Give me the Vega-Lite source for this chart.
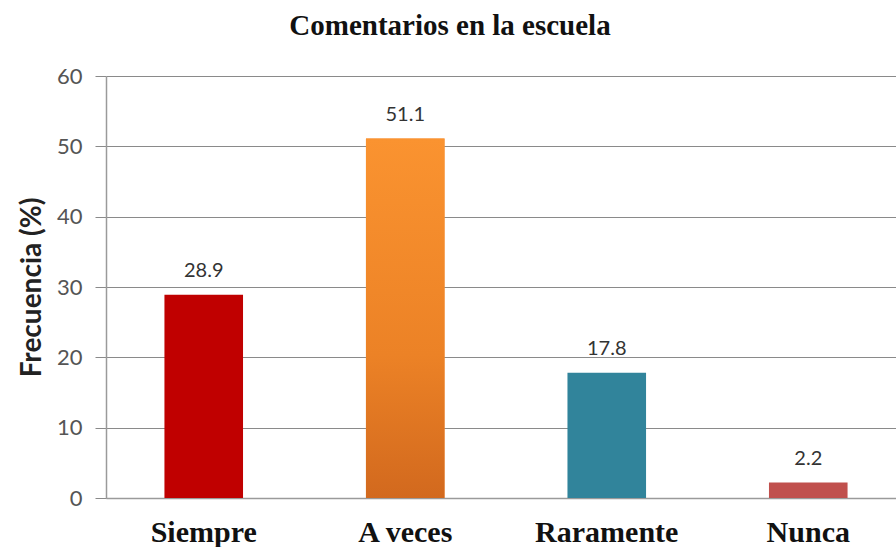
{
  "$schema": "https://vega.github.io/schema/vega-lite/v6.json",
  "autosize": "none",
  "width": 790,
  "height": 422,
  "padding": {"left": 106, "top": 76, "right": 0, "bottom": 49},
  "background": "white",
  "title": {
    "text": "Comentarios en la escuela",
    "font": "Liberation Serif",
    "fontSize": 29,
    "fontWeight": "bold",
    "color": "#111111",
    "anchor": "middle",
    "frame": "group",
    "dx": -51,
    "offset": 24
  },
  "config": {
    "view": {"stroke": null},
    "axis": {"labelFont": "Lato", "titleFont": "Lato"}
  },
  "data": {
    "values": [
      {"categoria": "Siempre", "frecuencia": 28.9},
      {"categoria": "A veces", "frecuencia": 51.1},
      {"categoria": "Raramente", "frecuencia": 17.8},
      {"categoria": "Nunca", "frecuencia": 2.2}
    ]
  },
  "encoding": {
    "x": {
      "field": "categoria",
      "type": "nominal",
      "sort": null,
      "scale": {"range": [0, 800], "paddingInner": 0.61, "paddingOuter": 0.29},
      "axis": {
        "title": null,
        "labelAngle": 0,
        "labelFont": "Liberation Serif",
        "labelFontSize": 30,
        "labelFontWeight": "bold",
        "labelColor": "#111111",
        "labelPadding": 19,
        "ticks": false,
        "domainColor": "#9a9a9a",
        "domainWidth": 1.5
      }
    },
    "y": {
      "field": "frecuencia",
      "type": "quantitative",
      "scale": {"domain": [0, 60], "nice": false},
      "axis": {
        "title": "Frecuencia (%)",
        "titleFontSize": 28,
        "titleFontWeight": "bold",
        "titleColor": "#222222",
        "titlePadding": 10,
        "values": [0, 10, 20, 30, 40, 50, 60],
        "labelFontSize": 22,
        "labelColor": "#555555",
        "labelPadding": 13,
        "tickSize": 11,
        "tickColor": "#8a8a8a",
        "gridColor": "#8a8a8a",
        "gridWidth": 1,
        "domainColor": "#9a9a9a",
        "domainWidth": 1.5
      }
    }
  },
  "layer": [
    {
      "mark": {"type": "bar"},
      "encoding": {
        "color": {
          "field": "categoria",
          "type": "nominal",
          "scale": {
            "domain": ["Siempre", "A veces", "Raramente", "Nunca"],
            "range": ["#C00000", "#F79646", "#31849B", "#C0504D"]
          },
          "legend": null
        }
      }
    },
    {
      "transform": [{"filter": "datum.categoria === 'A veces'"}],
      "mark": {
        "type": "bar",
        "fill": {
          "gradient": "linear",
          "x1": 0, "y1": 0, "x2": 0, "y2": 1,
          "stops": [
            {"offset": 0, "color": "#FA9330"},
            {"offset": 0.6, "color": "#EC8226"},
            {"offset": 1, "color": "#D2691E"}
          ]
        }
      }
    },
    {
      "mark": {
        "type": "text",
        "font": "Lato",
        "fontSize": 20,
        "color": "#333333",
        "baseline": "alphabetic",
        "dy": -18
      },
      "encoding": {
        "text": {"field": "frecuencia", "type": "quantitative", "format": ".1f"}
      }
    }
  ]
}
